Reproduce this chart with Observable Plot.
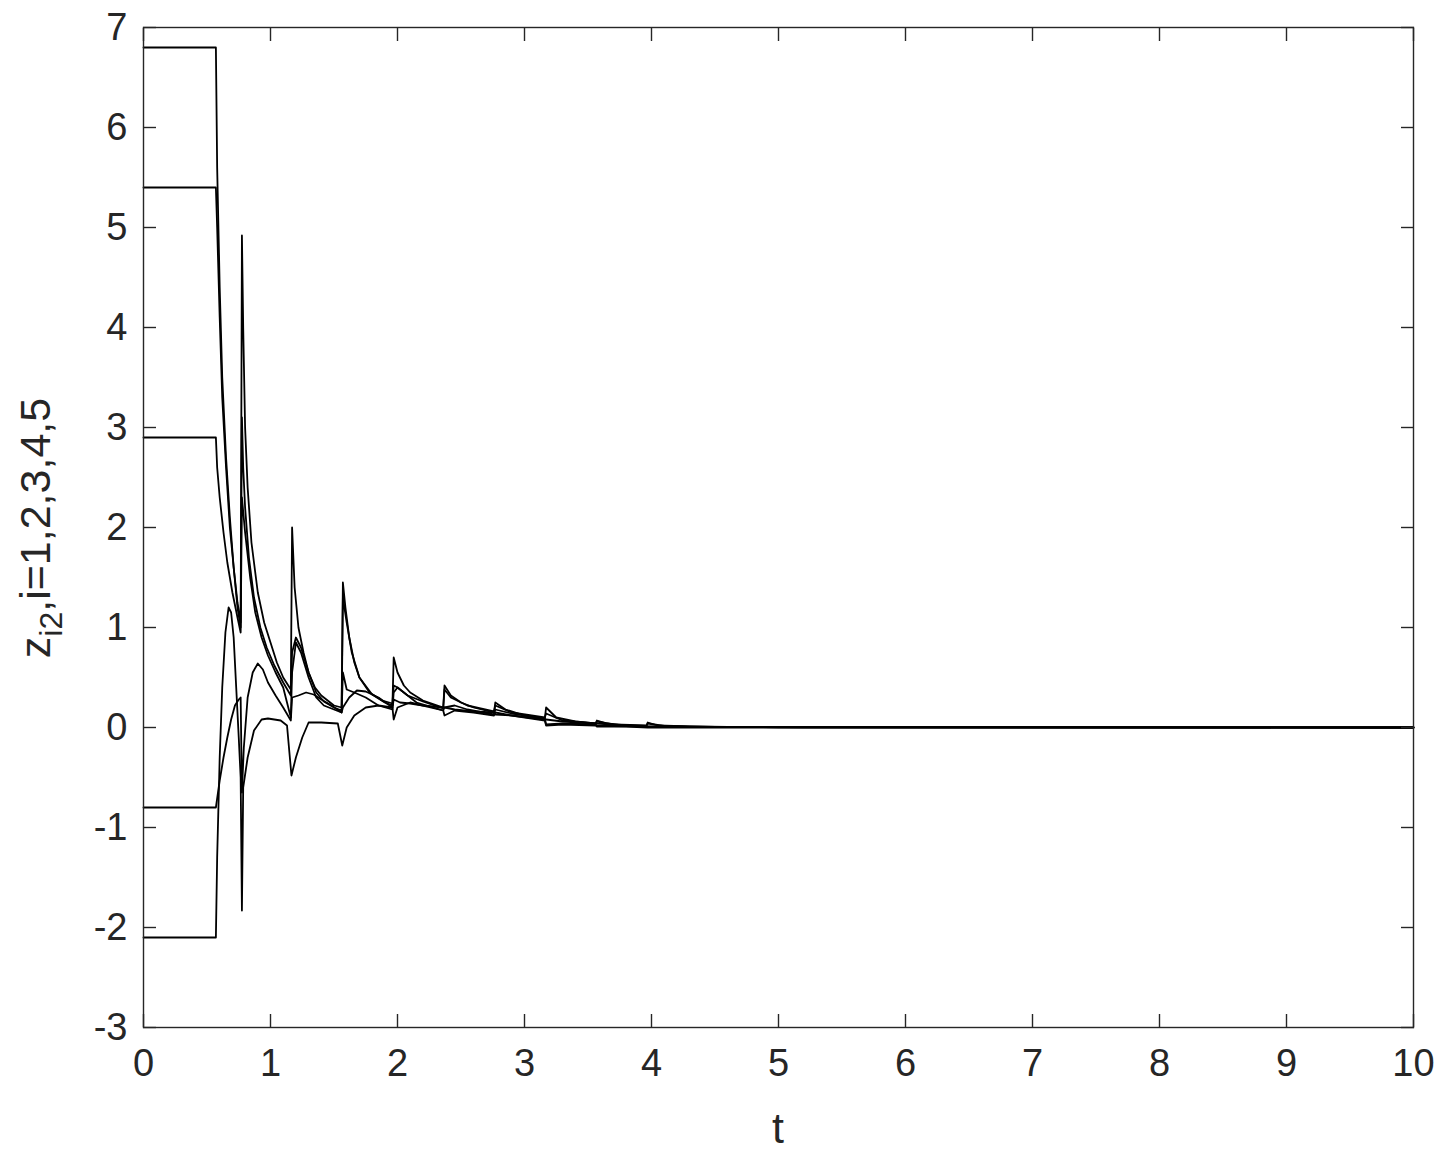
<!DOCTYPE html>
<html><head><meta charset="utf-8">
<script src="https://cdn.jsdelivr.net/npm/d3@7"></script>
<script src="https://cdn.jsdelivr.net/npm/@observablehq/plot@0.6"></script>
<style>body{margin:0;background:#fff;}</style>
</head><body><div id="chart"></div><script>
const xTicks = [0,1,2,3,4,5,6,7,8,9,10];
const yTicks = [-3,-2,-1,0,1,2,3,4,5,6,7];
const xLabel = "t";
const yLabelMain = "z", yLabelSub = "i2", yLabelRest = ",i=1,2,3,4,5";

const s1 = [[0,6.8],[0.57,6.8],[0.58,5.6],[0.6,4.4],[0.62,3.5],[0.65,2.7],[0.68,2.1],[0.71,1.6],[0.74,1.2],[0.765,1.0],[0.775,4.92],[0.785,4.0],[0.8,3.0],[0.82,2.4],[0.85,1.85],[0.9,1.35],[0.95,1.05],[1.0,0.85],[1.05,0.65],[1.1,0.5],[1.16,0.38],[1.17,2.0],[1.19,1.4],[1.22,1.0],[1.26,0.75],[1.3,0.55],[1.35,0.4],[1.4,0.32],[1.5,0.22],[1.56,0.2],[1.57,1.45],[1.59,1.2],[1.62,0.9],[1.66,0.65],[1.7,0.5],[1.8,0.33],[1.9,0.25],[1.96,0.22],[1.97,0.7],[2.0,0.55],[2.05,0.42],[2.1,0.35],[2.2,0.27],[2.36,0.2],[2.37,0.42],[2.42,0.32],[2.5,0.25],[2.6,0.2],[2.76,0.15],[2.77,0.25],[2.85,0.18],[3.0,0.12],[3.16,0.09],[3.17,0.2],[3.25,0.1],[3.4,0.06],[3.56,0.04],[3.57,0.07],[3.65,0.04],[3.8,0.02],[3.96,0.015],[3.97,0.05],[4.05,0.02],[4.3,0.01],[4.6,0.005],[5.0,0.002],[5.5,0.001],[10,0]];
const s2 = [[0,5.4],[0.57,5.4],[0.58,5.0],[0.6,4.1],[0.62,3.3],[0.65,2.6],[0.68,2.0],[0.71,1.6],[0.74,1.25],[0.765,1.05],[0.775,3.1],[0.785,2.6],[0.8,2.2],[0.83,1.7],[0.87,1.3],[0.92,1.0],[0.97,0.8],[1.03,0.62],[1.1,0.45],[1.16,0.32],[1.17,0.75],[1.2,0.9],[1.24,0.8],[1.3,0.55],[1.36,0.35],[1.42,0.26],[1.5,0.2],[1.56,0.17],[1.57,1.3],[1.6,1.05],[1.64,0.75],[1.7,0.5],[1.78,0.35],[1.88,0.27],[1.96,0.24],[1.97,0.42],[2.0,0.4],[2.08,0.32],[2.2,0.26],[2.36,0.19],[2.37,0.38],[2.42,0.3],[2.55,0.22],[2.76,0.16],[2.77,0.22],[2.9,0.15],[3.16,0.1],[3.17,0.14],[3.3,0.07],[3.56,0.04],[3.57,0.06],[3.7,0.03],[3.96,0.02],[3.97,0.04],[4.1,0.015],[4.5,0.005],[5.2,0.001],[10,0]];
const s3 = [[0,2.9],[0.57,2.9],[0.58,2.6],[0.6,2.3],[0.63,1.95],[0.66,1.65],[0.7,1.35],[0.74,1.1],[0.765,0.95],[0.775,2.3],[0.8,1.95],[0.84,1.5],[0.88,1.15],[0.93,0.9],[0.98,0.72],[1.04,0.55],[1.1,0.4],[1.16,0.1],[1.17,0.55],[1.2,0.85],[1.24,0.75],[1.3,0.5],[1.36,0.3],[1.42,0.22],[1.5,0.18],[1.56,0.15],[1.57,0.55],[1.6,0.38],[1.66,0.35],[1.75,0.3],[1.85,0.22],[1.96,0.18],[1.97,0.35],[2.0,0.4],[2.05,0.35],[2.15,0.25],[2.36,0.17],[2.37,0.2],[2.45,0.22],[2.55,0.18],[2.76,0.13],[2.77,0.18],[2.9,0.14],[3.16,0.09],[3.17,0.03],[3.3,0.04],[3.56,0.03],[3.57,0.02],[3.7,0.015],[3.96,0.01],[3.97,0.01],[4.3,0.005],[10,0]];
const s4 = [[0,-0.8],[0.57,-0.8],[0.6,-0.53],[0.63,-0.3],[0.66,-0.1],[0.69,0.08],[0.72,0.22],[0.75,0.28],[0.765,0.3],[0.775,-0.65],[0.79,-0.2],[0.82,0.3],[0.86,0.55],[0.9,0.64],[0.94,0.58],[0.98,0.45],[1.04,0.32],[1.1,0.2],[1.16,0.07],[1.17,0.3],[1.22,0.32],[1.28,0.35],[1.34,0.33],[1.4,0.28],[1.48,0.22],[1.56,0.15],[1.57,0.2],[1.62,0.3],[1.68,0.37],[1.75,0.36],[1.85,0.3],[1.96,0.2],[1.97,0.28],[2.02,0.25],[2.1,0.24],[2.2,0.22],[2.36,0.2],[2.37,0.2],[2.45,0.18],[2.6,0.16],[2.76,0.15],[2.77,0.13],[2.9,0.12],[3.16,0.08],[3.17,0.08],[3.3,0.06],[3.56,0.04],[3.57,0.04],[3.8,0.02],[3.97,0.01],[4.3,0.005],[10,0]];
const s5 = [[0,-2.1],[0.57,-2.1],[0.58,-1.3],[0.6,-0.3],[0.62,0.4],[0.645,0.95],[0.67,1.2],[0.69,1.15],[0.71,0.9],[0.73,0.4],[0.75,-0.1],[0.765,-0.5],[0.775,-1.83],[0.785,-0.6],[0.82,-0.3],[0.87,-0.03],[0.93,0.08],[0.98,0.09],[1.08,0.07],[1.13,0.02],[1.165,-0.48],[1.2,-0.3],[1.25,-0.1],[1.3,0.05],[1.4,0.05],[1.53,0.04],[1.565,-0.18],[1.6,0.0],[1.66,0.12],[1.75,0.2],[1.85,0.22],[1.96,0.2],[1.97,0.08],[2.0,0.2],[2.1,0.25],[2.2,0.22],[2.36,0.17],[2.37,0.12],[2.45,0.17],[2.6,0.15],[2.76,0.12],[2.77,0.15],[2.9,0.12],[3.16,0.07],[3.17,0.02],[3.3,0.03],[3.56,0.02],[3.57,0.01],[3.8,0.01],[3.97,0.0],[10,0]];
const seriesList = [s1, s2, s3, s4, s5];

const data = seriesList.flatMap((s, i) => s.map(([t, v]) => ({t, v, k: i})));
const blank = () => "";
const plain = (d) => String(d);
const font = "'Liberation Sans', Arial, Helvetica, sans-serif";

const svg = Plot.plot({
  width: 1454, height: 1162,
  marginLeft: 143, marginRight: 41, marginTop: 27, marginBottom: 135,
  style: {fontFamily: font, fontSize: "38px", color: "#262626", background: "#fff", overflow: "visible"},
  x: {domain: [0, 10]},
  y: {domain: [-3, 7]},
  marks: [
    Plot.line(data, {x: "t", y: "v", z: "k", stroke: "#000", strokeWidth: 1.8}),
    Plot.frame({stroke: "#262626", strokeWidth: 1.4}),
    Plot.axisX({ticks: xTicks, tickSize: 0, tickPadding: 22, tickFormat: plain, label: null, fontSize: 38}),
    Plot.axisX({ticks: xTicks, tickSize: -13, tickFormat: blank, label: null, stroke: "#262626", strokeWidth: 1.4}),
    Plot.axisX({anchor: "top", ticks: xTicks, tickSize: -13, tickFormat: blank, label: null, stroke: "#262626", strokeWidth: 1.4}),
    Plot.axisY({ticks: yTicks, tickSize: 0, tickPadding: 16, tickFormat: plain, label: null, fontSize: 38}),
    Plot.axisY({ticks: yTicks, tickSize: -13, tickFormat: blank, label: null, stroke: "#262626", strokeWidth: 1.4}),
    Plot.axisY({anchor: "right", ticks: yTicks, tickSize: -13, tickFormat: blank, label: null, stroke: "#262626", strokeWidth: 1.4})
  ]
});
document.getElementById("chart").appendChild(svg);

const s = d3.select(svg);
s.append("text")
  .attr("x", 778).attr("y", 1143)
  .attr("text-anchor", "middle")
  .attr("font-family", font).attr("font-size", 43).attr("fill", "#262626")
  .text(xLabel);
const yl = s.append("text")
  .attr("transform", "translate(50,528) rotate(-90)")
  .attr("text-anchor", "middle")
  .attr("font-family", font).attr("font-size", 43).attr("fill", "#262626");
yl.append("tspan").text(yLabelMain);
yl.append("tspan").attr("font-size", 32).attr("dy", 12).text(yLabelSub);
yl.append("tspan").attr("dy", -12).text(yLabelRest);
</script></body></html>
